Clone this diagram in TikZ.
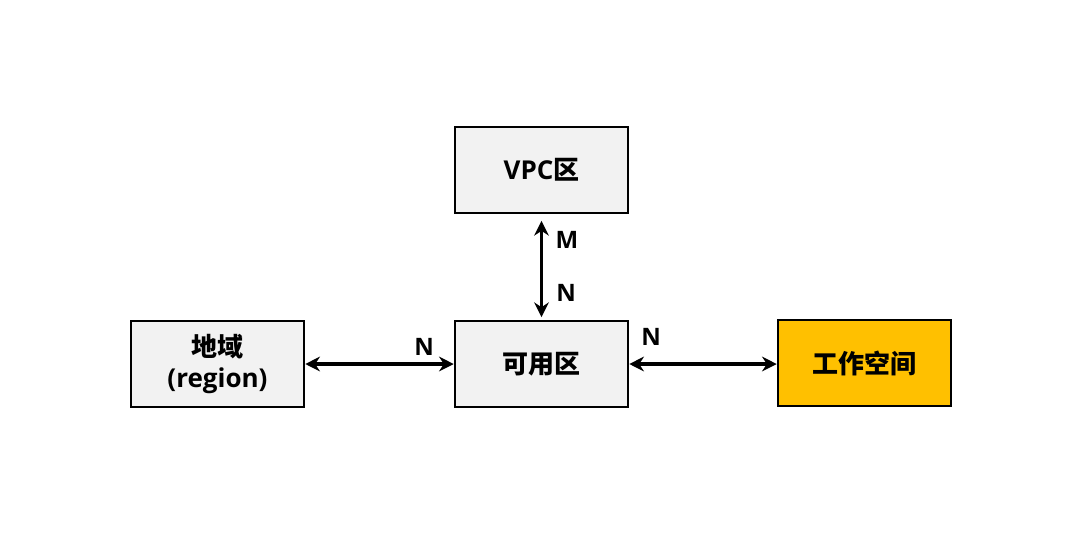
\documentclass[tikz,border=0pt]{standalone}
\usepackage{fontspec}
\setmainfont{Open Sans}
\newfontfamily\cjk{Noto Sans CJK SC}
\usetikzlibrary{arrows.meta}
\tikzset{
  box/.style={draw=black,line width=1.9pt,fill=boxgray,minimum width=129.75pt,minimum height=64.5pt,inner sep=0pt,align=center,font=\fontsize{19.5}{23}\selectfont\bfseries},
  conn/.style={draw=black,line width=2.4pt,{Stealth[length=11pt,width=11pt]}-{Stealth[length=11pt,width=11pt]}},
  lbl/.style={font=\fontsize{18}{20}\selectfont\bfseries,inner sep=0pt}
}
\begin{document}
\begin{tikzpicture}[x=0.75pt,y=-0.75pt]
\definecolor{boxgray}{HTML}{F2F2F2}
\definecolor{gold}{HTML}{FFC000}
\useasboundingbox (0,0) rectangle (1080,544);
\node[box] (vpc) at (541.5,170) {VPC{\cjk\bfseries 区}};
\node[box] (region) at (217.5,364) {{\cjk\bfseries 地域}\\[0pt](region)};
\node[box] (az) at (541.5,364) {{\cjk\bfseries 可用区}};
\node[box,fill=gold] (ws) at (864.5,363) {{\cjk\bfseries 工作空间}};
\path[conn,shorten <=5pt,shorten >=2pt] (vpc.south) -- (az.north);
\path[conn] (region.east) -- (az.west);
\path[conn] (az.east) -- (ws.west |- az.east);
\node[lbl] (m1) at (567,240) {M};
\node[lbl] (n1) at (566,293) {N};
\node[lbl] (n2) at (424,347) {N};
\node[lbl] (n3) at (651,337) {N};
\end{tikzpicture}
\end{document}
